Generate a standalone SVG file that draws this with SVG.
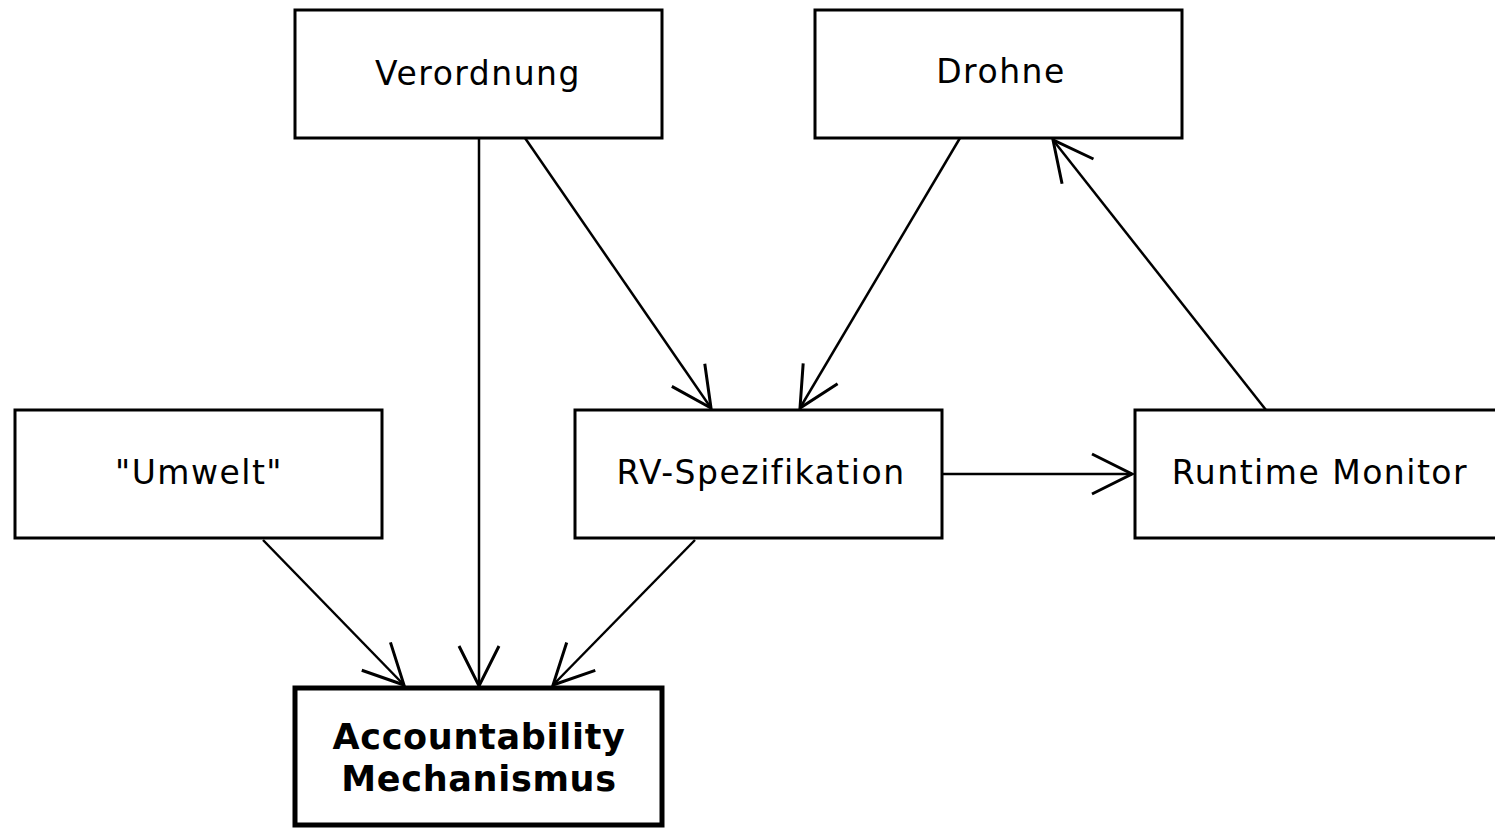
<svg xmlns="http://www.w3.org/2000/svg" width="1495" height="829" viewBox="0 0 1495 829">
<style>
.box{fill:#fff;stroke:#000;stroke-width:3}
.bold{fill:#fff;stroke:#000;stroke-width:5}
.lbl{font-family:"DejaVu Sans",sans-serif;font-size:33px;letter-spacing:1.5px;fill:#000;text-anchor:middle}
.lblb{font-family:"DejaVu Sans",sans-serif;font-size:35px;letter-spacing:0.7px;font-weight:bold;fill:#000;text-anchor:middle}
.edge{fill:none;stroke:#000;stroke-width:2.5}
</style>
<defs>
<marker id="arr" markerUnits="userSpaceOnUse" viewBox="-44 -24 48 48" refX="0" refY="0" markerWidth="48" markerHeight="48" orient="auto">
<path d="M-40,-20 L0,0 L-40,20" fill="none" stroke="#000" stroke-width="3"/>
</marker>
</defs>
<rect width="1495" height="829" fill="#fff"/>
<g id="connectors">
<line class="edge" x1="479" y1="138" x2="479" y2="686" marker-end="url(#arr)"/>
<line class="edge" x1="525" y1="138" x2="711" y2="408" marker-end="url(#arr)"/>
<line class="edge" x1="960" y1="138" x2="800" y2="408" marker-end="url(#arr)"/>
<line class="edge" x1="1266" y1="410" x2="1053" y2="140" marker-end="url(#arr)"/>
<line class="edge" x1="942" y1="474" x2="1132" y2="474" marker-end="url(#arr)"/>
<line class="edge" x1="263" y1="540" x2="404" y2="685" marker-end="url(#arr)"/>
<line class="edge" x1="695" y1="540" x2="553" y2="685" marker-end="url(#arr)"/>
</g>
<g id="verordnung"><rect class="box" x="295" y="10" width="367" height="128"/><text class="lbl" x="478" y="85">Verordnung</text></g>
<g id="drohne"><rect class="box" x="815" y="10" width="367" height="128"/><text class="lbl" x="1001" y="83">Drohne</text></g>
<g id="umwelt"><rect class="box" x="15" y="410" width="367" height="128"/><text class="lbl" x="199" y="484">"Umwelt"</text></g>
<g id="rvspez"><rect class="box" x="575" y="410" width="367" height="128"/><text class="lbl" x="761" y="484">RV-Spezifikation</text></g>
<g id="runtime"><rect class="box" x="1135" y="410" width="367" height="128"/><text class="lbl" x="1320" y="484">Runtime Monitor</text></g>
<g id="accountability"><rect class="bold" x="295" y="688" width="367" height="137"/><text class="lblb" x="479" y="749">Accountability</text><text class="lblb" x="479" y="791">Mechanismus</text></g>
</svg>
